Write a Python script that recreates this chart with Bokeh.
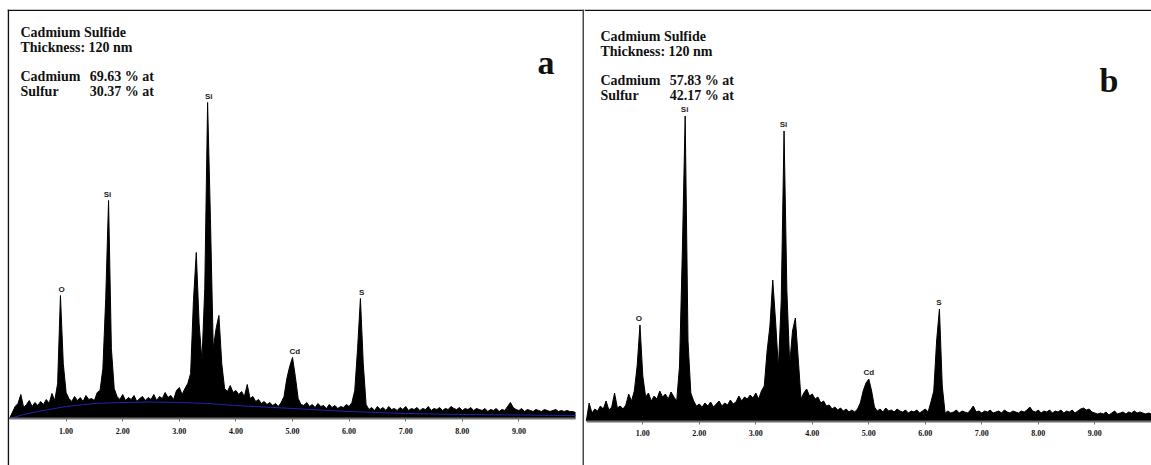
import numpy as np
from bokeh.plotting import figure
from bokeh.layouts import row, column
from bokeh.models import Range1d, LinearAxis, FixedTicker, Span, Label, ColumnDataSource, Spacer
from bokeh.core.properties import value
from bokeh.embed import file_html
from bokeh.resources import INLINE

# ---------------- data ----------------
ENERGY_STEP_KEV = 0.05  # channel width used for the read-off values

# spectrum a: counts per channel, 0.00 ... 10.00 keV
COUNTS_A = [
    0, 6, 12, 15, 24, 11, 14, 18, 12, 16, 13, 17, 14, 19, 15, 25, 18, 35, 123, 55,
    26, 20, 17, 22, 18, 21, 17, 23, 19, 20, 18, 26, 28, 50, 120, 218, 70, 30, 22, 19,
    24, 18, 21, 19, 23, 17, 20, 22, 18, 21, 19, 24, 18, 22, 20, 26, 21, 23, 19, 28,
    31, 24, 30, 35, 45, 118, 166, 95, 58, 130, 316, 200, 70, 90, 103, 55, 30, 27, 33, 26,
    28, 24, 27, 22, 34, 20, 22, 17, 19, 15, 17, 14, 16, 13, 15, 12, 16, 22, 40, 52,
    61, 42, 20, 14, 13, 16, 12, 14, 11, 15, 12, 13, 10, 14, 11, 13, 10, 12, 11, 14,
    12, 16, 28, 70, 120, 55, 14, 9, 11, 8, 12, 9, 11, 8, 12, 9, 10, 8, 11, 9,
    12, 8, 10, 9, 11, 8, 10, 9, 12, 8, 10, 9, 11, 8, 10, 9, 12, 10, 9, 11,
    8, 10, 9, 11, 8, 10, 9, 8, 10, 7, 9, 8, 10, 7, 9, 8, 12, 16, 11, 9,
    8, 10, 7, 9, 8, 7, 9, 8, 7, 9, 8, 7, 8, 9, 7, 8, 7, 8, 7, 7,
    6,
]

# spectrum b: counts per channel, 0.00 ... 10.00 keV
COUNTS_B = [
    0, 18, 8, 12, 10, 15, 12, 20, 11, 14, 28, 13, 15, 12, 16, 27, 20, 30, 55, 96,
    45, 24, 28, 20, 25, 22, 30, 24, 27, 22, 29, 24, 20, 55, 170, 305, 80, 28, 20, 15,
    17, 14, 18, 15, 19, 14, 17, 20, 15, 18, 16, 21, 17, 19, 25, 20, 24, 22, 26, 23,
    28, 22, 30, 35, 70, 95, 141, 100, 53, 120, 290, 130, 57, 90, 103, 63, 22, 28, 32, 25,
    27, 22, 24, 18, 20, 15, 16, 12, 14, 11, 13, 10, 12, 9, 11, 9, 12, 18, 30, 38,
    42, 30, 14, 10, 12, 9, 13, 10, 11, 9, 12, 10, 9, 11, 8, 10, 9, 11, 8, 10,
    12, 9, 19, 30, 80, 112, 35, 8, 10, 8, 9, 11, 8, 10, 9, 8, 11, 15, 9, 10,
    8, 10, 9, 11, 8, 9, 10, 8, 11, 9, 8, 10, 9, 8, 10, 9, 11, 14, 10, 9,
    11, 8, 10, 9, 11, 8, 10, 9, 11, 8, 10, 9, 11, 8, 10, 12, 13, 11, 12, 9,
    8, 7, 8, 7, 9, 6, 8, 10, 7, 8, 9, 7, 9, 8, 10, 8, 9, 8, 7, 8,
    7,
]

ENERGY_KEV = np.round(np.arange(len(COUNTS_A)) * ENERGY_STEP_KEV, 2)

# background fit (blue) of spectrum a
BG_FIT_KEV = [0, 0.25, 0.5, 1.0, 1.5, 2.0, 2.5, 3.0, 3.5, 4.0, 5.0, 6.0, 7.0, 8.0, 9.0, 10.0]
BG_FIT_A = [0, 4, 7, 12, 15, 16, 16.5, 16, 15, 13, 10, 7, 5, 4, 3.5, 3]

PEAK_NAMES = ["O", "Si", "Si", "Cd", "S"]
PEAK_KEV_A = [0.92, 1.73, 3.52, 5.04, 6.22]
PEAK_KEV_B = [0.93, 1.74, 3.49, 5.00, 6.24]

TICK_KEV = [1, 2, 3, 4, 5, 6, 7, 8, 9]
TICK_LABELS = ["1.00", "2.00", "3.00", "4.00", "5.00", "6.00", "7.00", "8.00", "9.00"]

HEADER = ["Cadmium Sulfide", "Thickness: 120 nm"]
COMPOSITION_A = [("Cadmium", "69.63 % at"), ("Sulfur", "30.37 % at")]
COMPOSITION_B = [("Cadmium", "57.83 % at"), ("Sulfur", "42.17 % at")]

SERIF = "Liberation Serif"
TOP = 9  # page y of the figures' top edge


def make_panel(counts, peak_kev, composition, letter, g, bg_fit=None):
    # g: geometry in page pixels
    s = g["px_per_kev"]
    x_start = (g["left"] - g["x0"]) / s
    x_end = (g["left"] + g["width"] - g["x0"]) / s
    y_end = g["axis"] - TOP
    y_start = g["axis"] - (TOP + g["height"])
    p = figure(width=g["width"], height=g["height"], output_backend="svg",
               toolbar_location=None, x_range=Range1d(x_start, x_end),
               y_range=Range1d(y_start, y_end), x_axis_type=None, y_axis_type=None,
               min_border=0, min_border_left=0, min_border_right=0,
               min_border_top=0, min_border_bottom=0)
    p.outline_line_color = None
    p.xgrid.visible = False
    p.ygrid.visible = False
    p.background_fill_color = "white"
    p.border_fill_color = "white"

    p.varea(x=ENERGY_KEV, y1=np.zeros(len(counts)), y2=counts, fill_color="black")
    p.line(x=ENERGY_KEV, y=counts, line_color="black", line_width=1)
    if bg_fit is not None:
        p.line(x=BG_FIT_KEV, y=bg_fit, line_color="#2323b0", line_width=1)

    # peak labels
    cts = np.array(counts, dtype=float)
    ys = []
    for e in peak_kev:
        m = np.abs(ENERGY_KEV - e) <= 0.06
        ys.append(cts[m].max())
    src = ColumnDataSource(dict(x=peak_kev, y=ys, t=PEAK_NAMES))
    p.text(x="x", y="y", text="t", source=src, text_font=value("Liberation Sans"),
           text_font_size="8px", text_font_style="bold", text_color="#222222",
           text_align="center", text_baseline="bottom", y_offset=-2)

    ax = LinearAxis(fixed_location=0, ticker=FixedTicker(ticks=TICK_KEV), bounds=(0, 10))
    ax.major_label_overrides = {t: l for t, l in zip(TICK_KEV, TICK_LABELS)}
    ax.axis_line_color = "#707070"
    ax.axis_line_width = 2
    ax.major_tick_in = 0
    ax.major_tick_out = 3
    ax.major_tick_line_color = "#707070"
    ax.minor_tick_line_color = None
    ax.major_label_standoff = 6
    ax.major_label_text_font = SERIF
    ax.major_label_text_font_size = "8px"
    ax.major_label_text_font_style = "bold"
    ax.major_label_text_color = "#111111"
    p.add_layout(ax, "below")

    def lab(px, py, text, size="14px"):
        p.add_layout(Label(x=(px - g["x0"]) / s, y=g["axis"] - py, text=text,
                           text_font=SERIF, text_font_size=size, text_font_style="bold",
                           text_color="#111111", text_baseline="alphabetic", text_align="left"))

    tx, vx = g["text_x"], g["val_x"]
    b0 = g["text_y"]
    lab(tx, b0, HEADER[0])
    lab(tx, b0 + 15, HEADER[1])
    for i, (el, val) in enumerate(composition):
        lab(tx, b0 + 44 + 15 * i, el)
        lab(vx, b0 + 44 + 15 * i, val)
    lab(g["letter_x"], g["letter_y"], letter, size="34px")

    # frame lines
    p.add_layout(Span(location=g["axis"] - (TOP + 0.8), dimension="width",
                      line_color="#111111", line_width=1.6))
    if g.get("left_line"):
        p.add_layout(Span(location=(g["left"] + 0.8 - g["x0"]) / s, dimension="height",
                          line_color="#111111", line_width=1.6))
    if g.get("right_line"):
        p.add_layout(Span(location=(g["left"] + g["width"] - 1.0 - g["x0"]) / s,
                          dimension="height", line_color="#4a4a4a", line_width=2))
    return p


geom_a = dict(left=7, width=577, height=456, x0=9.0, px_per_kev=56.6, axis=418.0,
              text_x=20, val_x=89.3, text_y=31.5, letter_x=537, letter_y=62,
              left_line=True, right_line=True)
geom_b = dict(left=584, width=567, height=456, x0=585.8, px_per_kev=56.5, axis=420.5,
              text_x=600, val_x=669.3, text_y=36, letter_x=1099, letter_y=80)

pa = make_panel(COUNTS_A, PEAK_KEV_A, COMPOSITION_A, "a", geom_a, bg_fit=BG_FIT_A)
pb = make_panel(COUNTS_B, PEAK_KEV_B, COMPOSITION_B, "b", geom_b)

layout = column(Spacer(height=TOP),
                row(Spacer(width=7), pa, pb, spacing=0),
                spacing=0)
open("out.html", "w").write(file_html(layout, INLINE))
